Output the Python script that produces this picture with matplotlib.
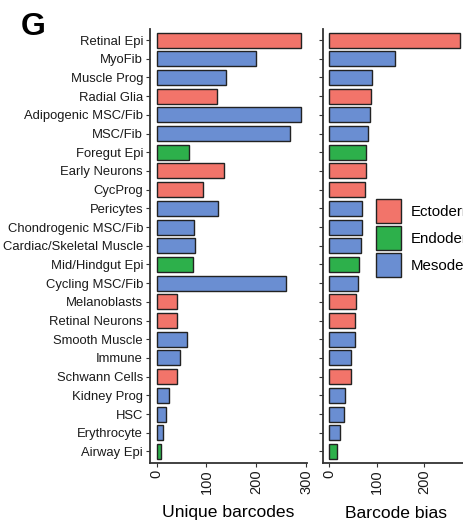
import numpy as np
import matplotlib.pyplot as plt
from matplotlib.patches import Patch

# cell types, top to bottom
cell_types = ["Retinal Epi", "MyoFib", "Muscle Prog", "Radial Glia", "Adipogenic MSC/Fib",
              "MSC/Fib", "Foregut Epi", "Early Neurons", "CycProg", "Pericytes",
              "Chondrogenic MSC/Fib", "Cardiac/Skeletal Muscle", "Mid/Hindgut Epi",
              "Cycling MSC/Fib", "Melanoblasts", "Retinal Neurons", "Smooth Muscle",
              "Immune", "Schwann Cells", "Kidney Prog", "HSC", "Erythrocyte", "Airway Epi"]
germ_layer = ["Ectoderm", "Mesoderm", "Mesoderm", "Ectoderm", "Mesoderm",
              "Mesoderm", "Endoderm", "Ectoderm", "Ectoderm", "Mesoderm",
              "Mesoderm", "Mesoderm", "Endoderm",
              "Mesoderm", "Ectoderm", "Ectoderm", "Mesoderm",
              "Mesoderm", "Ectoderm", "Mesoderm", "Mesoderm", "Mesoderm", "Endoderm"]
unique_barcodes = [290, 200, 139, 122, 290, 267, 64, 136, 94, 124,
                   75, 76, 72, 259, 41, 41, 61, 46, 40, 25, 18, 13, 8]
barcode_bias = [275, 139, 91, 89, 85, 82, 78, 77, 75, 70,
                69, 66, 62, 60, 57, 54, 54, 46, 45, 34, 30, 22, 16]

layer_names = ["Ectoderm", "Endoderm", "Mesoderm"]
layer_colors = {"Ectoderm": "#F2746A", "Endoderm": "#2DB04B", "Mesoderm": "#6A8ED2"}

plt.rcParams['font.family'] = ['Liberation Sans', 'DejaVu Sans']

W, H = 464, 525
fig = plt.figure(figsize=(W / 100, H / 100), dpi=100)

def px_axes(x0, x1, y_top, y_bot):
    return fig.add_axes([x0 / W, 1 - y_bot / H, (x1 - x0) / W, (y_bot - y_top) / H])

ax1 = px_axes(150, 307, 28.8, 462.7)
ax2 = px_axes(323, 464, 28.8, 462.7)

n = len(cell_types)
y = np.arange(n)
colors = [layer_colors[g] for g in germ_layer]
axis_col = "#333333"

for ax, vals in [(ax1, unique_barcodes), (ax2, barcode_bias)]:
    ax.barh(y, vals, height=0.8, color=colors, edgecolor="#222222", linewidth=1.0)
    ax.set_ylim(n - 0.4, -0.6)
    for s in ["top", "right"]:
        ax.spines[s].set_visible(False)
    for s in ["left", "bottom"]:
        ax.spines[s].set_color(axis_col)
        ax.spines[s].set_linewidth(1.3)
    ax.tick_params(axis="both", length=3, width=0.8, color=axis_col,
                   labelsize=9.4, labelcolor="#1a1a1a", pad=2)
    ax.set_yticks(y)

ax1.set_yticklabels(cell_types)
ax2.set_yticklabels([])

ax1.set_xlim(-13.5, 302)
ax1.set_xticks([0, 100, 200, 300])
ax2.set_xlim(-13.3, 284.5)
ax2.set_xticks([0, 100, 200])
for ax in (ax1, ax2):
    for lab in ax.get_xticklabels():
        lab.set_rotation(90)
        lab.set_fontsize(10.5)

fig.text(228.5 / W, 1 - 513 / H, "Unique barcodes", ha="center", va="center", fontsize=12.6)
fig.text(396 / W, 1 - 513 / H, "Barcode bias", ha="center", va="center", fontsize=12.6)
fig.text(21 / W, 1 - 35 / H, "G", ha="left", va="baseline", fontsize=23, fontweight="bold")

# legend sits inside the right panel and runs off the figure edge, as in the source
handles = [Patch(facecolor=layer_colors[g], edgecolor="#222222", linewidth=1.0) for g in layer_names]
fig.legend(handles, layer_names, loc="upper left", bbox_to_anchor=(376 / W, 1 - 199 / H),
           frameon=False, borderpad=0, borderaxespad=0, handlelength=1.7, handleheight=2.1,
           labelspacing=0.2, handletextpad=0.65, fontsize=10.8)

fig.savefig("out.png", dpi=100)
